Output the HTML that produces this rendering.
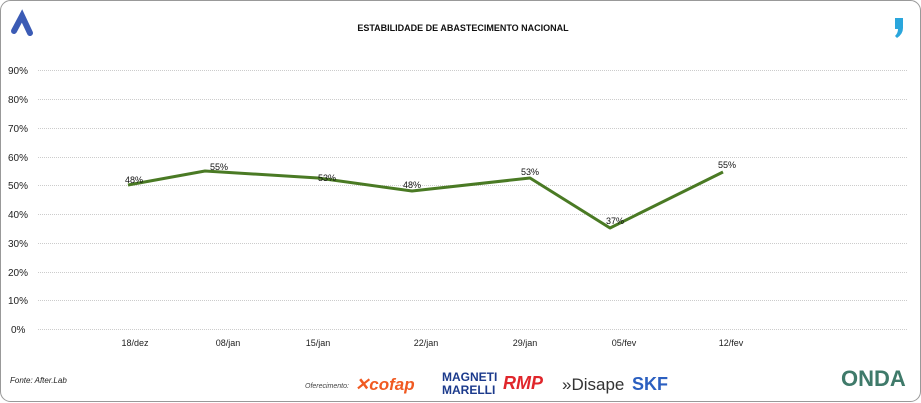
<!DOCTYPE html>
<html><head><meta charset="utf-8"><style>
body{margin:0;background:#fff}
svg{display:block;font-family:"Liberation Sans",sans-serif}
</style></head><body>
<svg width="921" height="403" xmlns="http://www.w3.org/2000/svg">
<rect x="0.5" y="0.5" width="920" height="401" rx="10" fill="#fff" stroke="#999"/>
<path d="M14 31 L22 16 L30 33" stroke="#3b5bb5" stroke-width="6" fill="none" stroke-linecap="round"/>
<path d="M895 18 h8 v10 q0 6 -6 10 l-2 -2 q3 -3 3 -7 h-3z" fill="#2aa6dc"/>
<text x="463" y="31" font-size="9" font-weight="bold" text-anchor="middle" fill="#111">ESTABILIDADE DE ABASTECIMENTO NACIONAL</text>
<g stroke="#ccc" stroke-dasharray="1,1" stroke-width="1">
<line x1="38" x2="908" y1="70.5" y2="70.5"/><line x1="38" x2="908" y1="99.5" y2="99.5"/>
<line x1="38" x2="908" y1="128.5" y2="128.5"/><line x1="38" x2="908" y1="157.5" y2="157.5"/>
<line x1="38" x2="908" y1="185.5" y2="185.5"/><line x1="38" x2="908" y1="214.5" y2="214.5"/>
<line x1="38" x2="908" y1="243.5" y2="243.5"/><line x1="38" x2="908" y1="272.5" y2="272.5"/>
<line x1="38" x2="908" y1="300.5" y2="300.5"/><line x1="38" x2="908" y1="329.5" y2="329.5"/>
</g>
<g font-size="10" fill="#222">
<text x="8" y="74">90%</text><text x="8" y="103">80%</text><text x="8" y="132">70%</text>
<text x="8" y="161">60%</text><text x="8" y="189">50%</text><text x="8" y="218">40%</text>
<text x="8" y="247">30%</text><text x="8" y="276">20%</text><text x="8" y="304">10%</text>
<text x="11" y="333">0%</text>
</g>
<g font-size="9" fill="#222" text-anchor="middle">
<text x="135" y="346">18/dez</text><text x="228" y="346">08/jan</text><text x="318" y="346">15/jan</text>
<text x="426" y="346">22/jan</text><text x="525" y="346">29/jan</text><text x="624" y="346">05/fev</text>
<text x="731" y="346">12/fev</text>
</g>
<polyline points="128,185 205,171 318,178 412,191 530,178 610,228 723,172" fill="none" stroke="#4a7a24" stroke-width="3" stroke-linejoin="round"/>
<g font-size="9" fill="#111" text-anchor="middle">
<text x="134" y="183">48%</text><text x="219" y="170">55%</text><text x="327" y="181">53%</text>
<text x="412" y="188">48%</text><text x="530" y="175">53%</text><text x="615" y="224">37%</text>
<text x="727" y="168">55%</text>
</g>
<text x="10" y="383" font-size="8" font-style="italic" fill="#222">Fonte: After.Lab</text>
<text x="305" y="388" font-size="7" font-style="italic" fill="#444">Oferecimento:</text>
<text x="355" y="390" font-size="17" font-weight="bold" font-style="italic" fill="#f05a22">✕cofap</text>
<text x="442" y="381" font-size="12" font-weight="bold" fill="#1b3a8c">MAGNETI</text>
<text x="442" y="394" font-size="12" font-weight="bold" fill="#1b3a8c">MARELLI</text>
<text x="503" y="389" font-size="18" font-weight="bold" font-style="italic" fill="#e0262b">RMP</text>
<text x="562" y="390" font-size="17" fill="#333">»Disape</text>
<text x="632" y="390" font-size="18" font-weight="bold" fill="#2b5fc0">SKF</text>
<text x="841" y="386" font-size="22" font-weight="bold" fill="#3f7a6a">ONDA</text>
</svg>
</body></html>
